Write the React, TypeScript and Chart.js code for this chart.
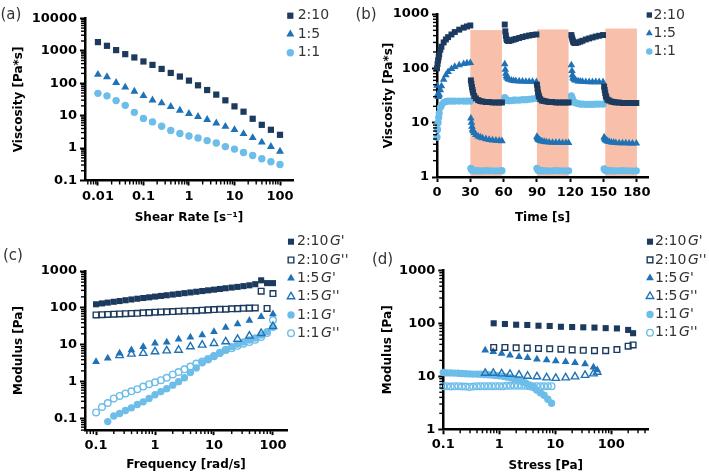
import React, { useEffect, useRef } from 'react';
import { Chart, registerables } from 'chart.js';

Chart.register(...registerables);

const FONT = '"DejaVu Sans", "Liberation Sans", sans-serif';
const DARK = '#1b3a5e';
const MID = '#1f72b6';
const LIGHT = '#6cbde9';
const PINK = '#f8c0aa';

// ---------- (a) viscosity vs shear rate ----------
const SHEAR_RATE = [0.01, 0.0158, 0.0251, 0.0398, 0.0631, 0.1, 0.158, 0.251, 0.398, 0.631, 1, 1.58, 2.51, 3.98, 6.31, 10, 15.8, 25.1, 39.8, 63.1, 100];
const VISC_A_210 = [1845, 1419, 1045, 785, 621, 467, 366, 275, 207, 160, 120, 86, 61.5, 44.4, 29.6, 19.3, 13.2, 8.0, 5.2, 3.66, 2.56];
const VISC_A_15 = [185, 156, 104, 75, 56, 41, 30, 24.4, 18.9, 14.5, 11.5, 9.25, 7.5, 5.85, 4.6, 3.66, 2.75, 2.07, 1.51, 1.11, 0.79];
const VISC_A_11 = [48.6, 40.7, 29, 20.7, 12.6, 8.2, 6.4, 4.7, 3.5, 2.8, 2.35, 2.04, 1.7, 1.43, 1.11, 0.93, 0.73, 0.59, 0.47, 0.38, 0.31];
const TICKS_A_X = [0.01, 0.1, 1, 10, 100];
const TICKS_A_Y = [0.1, 1, 10, 100, 1000, 10000];

// ---------- (b) viscosity vs time ----------
const TIME_B = [
  0, 0.5, 1, 1.5, 2, 3, 4, 6, 8, 10, 13, 16, 20, 24, 27, 30,
  30.5, 31, 31.5, 32, 32.5, 33.5, 35, 37, 39, 41, 44, 47, 50, 53, 56, 58.5,
  61, 61.5, 62, 62.5, 63, 64, 65, 67, 69, 71, 74, 77, 80, 83, 86, 89.5,
  90, 90.5, 91, 91.5, 92, 93, 94.5, 96.5, 98.5, 101, 104, 107, 110, 113, 116, 118.5,
  121, 121.5, 122, 122.5, 123, 124, 125, 127, 129, 131, 134, 137, 140, 143, 146, 149.5,
  150.5, 151, 151.5, 152, 152.5, 153.5, 155, 157, 159, 161, 164, 167, 170, 173, 176, 179.5,
];
const VISC_B_210 = [
  100, 120, 140, 160, 180, 220, 250, 300, 340, 375, 420, 465, 515, 560, 590, 615,
  60, 52, 45, 40, 36, 31, 28, 26, 25, 24.5, 24, 24, 23.5, 23.5, 23.5, 23.5,
  640, 480, 400, 350, 330, 320, 320, 328, 338, 348, 362, 377, 390, 402, 412, 420,
  50, 42, 36, 32, 30, 27, 25.5, 25, 24.5, 24, 24, 23.5, 23.5, 23.5, 23.5, 23.5,
  410, 370, 340, 315, 300, 292, 292, 300, 310, 322, 340, 355, 370, 385, 398, 410,
  46, 40, 35, 31, 29, 26.5, 25.5, 24.5, 24, 23.5, 23.5, 23, 23, 23, 23, 23,
];
const VISC_B_15 = [
  48, 33, 30, 31, 33, 40, 47, 62, 75, 86, 98, 107, 115, 121, 124, 126,
  12, 10, 8.5, 7.5, 7, 6.5, 6.0, 5.6, 5.4, 5.2, 5.0, 4.85, 4.75, 4.7, 4.65, 4.6,
  120, 95, 80, 72, 68, 64, 62, 60, 59, 58.5, 58, 57.5, 57, 57, 57, 56,
  5.5, 5.2, 5.0, 4.9, 4.8, 4.65, 4.55, 4.45, 4.4, 4.35, 4.3, 4.3, 4.3, 4.25, 4.25, 4.25,
  115, 90, 75, 68, 64, 61, 60, 58, 57.5, 57, 56.5, 56, 56, 56, 56, 56,
  5.4, 5.1, 4.9, 4.8, 4.7, 4.55, 4.45, 4.35, 4.3, 4.25, 4.2, 4.2, 4.2, 4.15, 4.15, 4.15,
];
const VISC_B_11 = [
  5.4, 7.5, 10, 12.5, 15, 19, 21, 23.5, 24.5, 25, 25, 25, 25, 25, 25, 25,
  1.45, 1.4, 1.35, 1.32, 1.3, 1.3, 1.31, 1.3, 1.29, 1.3, 1.31, 1.3, 1.3, 1.29, 1.3, 1.31,
  29, 27.5, 26.5, 26, 26, 25.5, 25.5, 25.5, 26, 26, 26, 26.5, 26.5, 27, 27.5, 28,
  1.45, 1.4, 1.35, 1.32, 1.3, 1.3, 1.31, 1.3, 1.3, 1.29, 1.3, 1.31, 1.3, 1.3, 1.29, 1.3,
  31, 29, 27, 25.5, 24.5, 23.5, 23, 22.5, 22, 22, 21.8, 21.8, 21.8, 22, 22, 22,
  1.42, 1.38, 1.34, 1.32, 1.3, 1.3, 1.31, 1.3, 1.29, 1.3, 1.3, 1.31, 1.3, 1.3, 1.29, 1.3,
];
const SHADE_START = [30, 90, 151.5];
const SHADE_END = [58.5, 118.5, 180];
const SHADE_TOP = [505, 520, 540];
const TICKS_B_X = [0, 30, 60, 90, 120, 150, 180];
const TICKS_B_Y = [1, 10, 100, 1000];

// ---------- (c) modulus vs frequency ----------
const FREQ_C = [0.1, 0.126, 0.158, 0.2, 0.251, 0.316, 0.398, 0.501, 0.631, 0.794, 1, 1.26, 1.58, 2, 2.51, 3.16, 3.98, 5.01, 6.31, 7.94, 10, 12.6, 15.8, 20, 25.1, 31.6, 39.8, 50.1, 63.1, 79.4, 100];
const GP_C_210 = [126, 133, 140, 147, 154, 162, 170, 178, 186, 194, 203, 212, 221, 231, 241, 252, 263, 275, 287, 300, 313, 327, 342, 357, 372, 390, 410, 440, 560, 470, 470];
const GPP_C_210 = [65, 66, 67, 68, 69, 70, 71, 72, 74, 75, 77, 78, 79, 80, 82, 83, 84, 85, 87, 89, 91, 92, 93, 95, 96, 98, 99, 100, 285, 97, 245];
const GP_C_11 = [null, null, 0.085, 0.12, 0.14, 0.17, 0.2, 0.245, 0.29, 0.36, 0.45, 0.55, 0.66, 0.82, 1.02, 1.3, 1.8, 2.4, 3.3, 4.0, 4.9, 6.0, 7.4, 9.0, 10.6, 12.0, 13.6, 15.5, 18.5, 23, 30];
const GPP_C_11 = [0.15, 0.21, 0.27, 0.36, 0.42, 0.49, 0.56, 0.64, 0.75, 0.87, 0.98, 1.12, 1.3, 1.6, 1.85, 2.2, 2.6, 3.15, 3.6, 4.2, 5.0, 6.2, 7.3, 8.1, 9.5, 10.8, 12.0, 13.8, 16.5, 21, 47];
const FREQ_C5 = [0.1, 0.158, 0.251, 0.398, 0.631, 1, 1.58, 2.51, 3.98, 6.31, 10, 15.8, 25.1, 39.8, 63.1, 100];
const GP_C_15 = [3.5, 4.4, 6.0, 7.3, 9.0, 11.1, 11.8, 14.3, 16.2, 18.6, 22.9, 29.5, 37, 45.6, 58, 69];
const GPP_C_15 = [null, null, 5.2, 5.7, 6.0, 6.6, 7.0, 7.3, 9.0, 10, 11.1, 12.3, 14.3, 17.5, 20.7, 32];
const TICKS_C_X = [0.1, 1, 10, 100];
const TICKS_C_Y = [0.1, 1, 10, 100, 1000];

// ---------- (d) modulus vs stress ----------
const STRESS_D10 = [0.794, 1.26, 2, 3.16, 5.01, 7.94, 12.6, 20, 31.6, 50.1, 79.4, 126, 200, 245];
const GP_D_210 = [100, 97, 94, 93, 90, 89, 86, 85, 84, 83, 81, 80, 75, 65];
const GPP_D_210 = [35, 35, 34.5, 34, 33.5, 33, 32.5, 31.5, 31, 30.5, 30.5, 32, 37, 39];
const STRESS_D5 = [0.56, 0.78, 1.1, 1.55, 2.25, 3.2, 4.7, 7.0, 10.2, 15.3, 22.5, 34, 48, 56];
const GP_D_15 = [31, 29, 27, 25, 23.4, 22.4, 21, 20.3, 19.5, 18.8, 18, 17, 14.8, 13.2];
const GPP_D_15 = [11.5, 11.5, 11.2, 11, 10.6, 10.1, 9.85, 9.4, 9.2, 9.4, 9.8, 10.5, 11.2, 12];
const STRESS_D1 = [0.1, 0.116, 0.136, 0.158, 0.185, 0.215, 0.251, 0.293, 0.341, 0.398, 0.464, 0.541, 0.631, 0.736, 0.858, 1, 1.17, 1.36, 1.58, 1.85, 2.15, 2.51, 2.93, 3.41, 3.98, 4.64, 5.41, 6.31, 7.36, 8.58];
const GP_D_11 = [11.8, 11.6, 11.6, 11.5, 11.4, 11.3, 11.2, 11.1, 11.0, 11.0, 10.9, 10.8, 10.7, 10.6, 10.4, 10.2, 10.0, 9.7, 9.4, 9.0, 8.6, 8.1, 7.5, 6.9, 6.2, 5.5, 4.9, 4.4, 3.7, 3.1];
const GPP_D_11 = [6.5, 6.5, 6.4, 6.5, 6.5, 6.4, 6.4, 6.3, 6.4, 6.5, 6.5, 6.5, 6.5, 6.5, 6.5, 6.5, 6.5, 6.6, 6.6, 6.6, 6.6, 6.6, 6.6, 6.5, 6.5, 6.5, 6.5, 6.5, 6.5, 6.5];
const TICKS_D_X = [0.1, 1, 10, 100];
const TICKS_D_Y = [1, 10, 100, 1000];

const RATIO_LABELS = ['2:10', '1:5', '1:1'];
const MODULUS_LABELS = ["2:10 G'", "2:10 G''", "1:5 G'", "1:5 G''", "1:1 G'", "1:1 G''"];

// ---------- helpers ----------
function series(label: string, xs: number[], ys: (number | null)[], style: string, color: string, open: boolean, r: number) {
  return {
    label,
    data: xs.map((x, i) => ({ x, y: ys[i] })),
    pointStyle: style,
    pointRadius: r,
    pointHoverRadius: r,
    pointBackgroundColor: open ? 'rgba(255,255,255,0)' : color,
    pointBorderColor: color,
    pointBorderWidth: open ? 1.4 : 0,
    showLine: false,
    clip: false,
  };
}

function drawMarker(ctx: CanvasRenderingContext2D, style: string, x: number, y: number, r: number, fill: string, stroke: string, bw: number) {
  ctx.beginPath();
  if (style === 'rect') {
    const h = r * Math.SQRT1_2;
    ctx.rect(x - h, y - h, 2 * h, 2 * h);
  } else if (style === 'triangle') {
    for (let k = 0; k < 3; k++) {
      const a = (k * 2 * Math.PI) / 3;
      const px = x + Math.sin(a) * r;
      const py = y - Math.cos(a) * r;
      if (k === 0) ctx.moveTo(px, py); else ctx.lineTo(px, py);
    }
    ctx.closePath();
  } else {
    ctx.arc(x, y, r, 0, Math.PI * 2);
  }
  ctx.fillStyle = fill;
  ctx.fill();
  if (bw > 0) {
    ctx.lineWidth = bw;
    ctx.strokeStyle = stroke;
    ctx.stroke();
  }
}

const minorTicksPlugin = {
  id: 'minorTicks',
  afterDraw(chart: any) {
    const ctx = chart.ctx;
    const area = chart.chartArea;
    ctx.save();
    ctx.strokeStyle = '#000';
    ctx.lineWidth = 1.4;
    for (const id of ['x', 'y']) {
      const s = chart.scales[id];
      if (s.type !== 'logarithmic') continue;
      const lo = Math.floor(Math.log10(s.min));
      const hi = Math.ceil(Math.log10(s.max));
      for (let k = lo; k <= hi; k++) {
        for (let m = 2; m <= 9; m++) {
          const v = m * Math.pow(10, k);
          if (v < s.min || v > s.max) continue;
          const p = s.getPixelForValue(v);
          ctx.beginPath();
          if (id === 'x') {
            ctx.moveTo(p, area.bottom);
            ctx.lineTo(p, area.bottom + 4);
          } else {
            ctx.moveTo(area.left, p);
            ctx.lineTo(area.left - 4, p);
          }
          ctx.stroke();
        }
      }
    }
    ctx.restore();
  },
};

const shadePlugin = {
  id: 'shade',
  beforeDraw(chart: any, _args: any, opts: any) {
    if (!opts || !opts.starts) return;
    const { x, y } = chart.scales;
    const ctx = chart.ctx;
    ctx.save();
    ctx.fillStyle = opts.color;
    const yb = y.getPixelForValue(y.min);
    opts.starts.forEach((s: number, i: number) => {
      const x0 = x.getPixelForValue(s);
      const x1 = x.getPixelForValue(opts.ends[i]);
      const y0 = y.getPixelForValue(opts.tops[i]);
      ctx.fillRect(x0, y0, x1 - x0, yb - y0);
    });
    ctx.restore();
  },
};

const keyPlugin = {
  id: 'key',
  afterDraw(chart: any, _args: any, opts: any) {
    const ctx = chart.ctx;
    ctx.save();
    ctx.textBaseline = 'middle';
    ctx.textAlign = 'left';
    chart.data.datasets.forEach((ds: any, i: number) => {
      const y = opts.y0 + i * opts.dy;
      drawMarker(ctx, ds.pointStyle, opts.markerX, y, ds.pointRadius * opts.scale, ds.pointBackgroundColor, ds.pointBorderColor, ds.pointBorderWidth);
      ctx.fillStyle = '#333';
      const label: string = ds.label;
      const sp = label.indexOf(' ');
      ctx.font = `${opts.size}px ${FONT}`;
      if (sp < 0) {
        ctx.fillText(label, opts.textX, y);
      } else {
        const a = label.slice(0, sp);
        const b = label.slice(sp + 1);
        ctx.fillText(a, opts.textX, y);
        const w = ctx.measureText(a).width;
        ctx.font = `italic ${opts.size}px ${FONT}`;
        ctx.fillText(b, opts.textX + w + 1.5, y);
      }
    });
    ctx.font = `15px ${FONT}`;
    ctx.fillStyle = '#333';
    ctx.fillText(opts.panel, opts.panelX, opts.panelY);
    ctx.restore();
  },
};

const TITLE_SIZE = 12;
const TICK_SIZE = 13;
const W = 709;
const H = 476;

function axis(type: string, min: number, max: number, ticks: number[], title: string, fit: (s: any) => void, pad: number) {
  return {
    type,
    min,
    max,
    bounds: 'data',
    afterFit: fit,
    afterBuildTicks: (s: any) => {
      s.ticks = ticks.map((v) => ({ value: v }));
    },
    ticks: {
      autoSkip: false,
      maxRotation: 0,
      padding: pad,
      color: '#000',
      font: { family: FONT, size: TICK_SIZE, weight: 'bold' },
      callback: (v: any) => String(v),
    },
    grid: { display: true, drawOnChartArea: false, drawTicks: true, tickLength: 5, tickWidth: 2, tickColor: '#000', color: '#000' },
    border: { display: true, width: 2.5, color: '#000' },
    title: { display: true, text: title, color: '#000', padding: 0, font: { family: FONT, size: TITLE_SIZE, weight: 'bold' } },
  };
}

function makeConfig(spec: any) {
  const lh = TITLE_SIZE * 1.2;
  const padLeft = spec.yTitleX - lh / 2;
  const yW = spec.area.l - padLeft;
  const xBottom = spec.xTitleY + lh / 2;
  const xH = xBottom - spec.area.b;
  return {
    type: 'scatter',
    data: { datasets: spec.datasets },
    options: {
      responsive: false,
      animation: false,
      events: [],
      layout: { padding: { left: padLeft, top: spec.area.t, right: W - spec.area.r, bottom: H - xBottom } },
      plugins: {
        legend: { display: false },
        tooltip: { enabled: false },
        key: spec.key,
        shade: spec.shade || {},
      },
      scales: {
        x: axis(spec.xType, spec.xMin, spec.xMax, spec.xTicks, spec.xTitle, (s: any) => { s.height = xH; }, 3),
        y: axis('logarithmic', spec.yMin, spec.yMax, spec.yTicks, spec.yTitle, (s: any) => { s.width = yW; }, 3),
      },
    },
    plugins: [shadePlugin, minorTicksPlugin, keyPlugin],
  };
}

function buildSpecs() {
  const specA = {
    area: { l: 85, t: 18.3, r: 293, b: 180.5 },
    yTitleX: 19, xTitleY: 218,
    xType: 'logarithmic', xMin: 0.0052, xMax: 193, xTicks: TICKS_A_X,
    yMin: 0.1, yMax: 10000, yTicks: TICKS_A_Y,
    xTitle: 'Shear Rate [s\u207B\u00B9]', yTitle: 'Viscosity [Pa*s]',
    datasets: [
      series(RATIO_LABELS[0], SHEAR_RATE, VISC_A_210, 'rect', DARK, false, 4.4),
      series(RATIO_LABELS[1], SHEAR_RATE, VISC_A_15, 'triangle', MID, false, 4.6),
      series(RATIO_LABELS[2], SHEAR_RATE, VISC_A_11, 'circle', LIGHT, false, 3.7),
    ],
    key: { markerX: 290.3, textX: 297.7, y0: 15.7, dy: 18.5, size: 14, scale: 1, panel: '(a)', panelX: 0.5, panelY: 15 },
  };
  const specB = {
    area: { l: 437, t: 14, r: 648, b: 177 },
    yTitleX: 389, xTitleY: 218,
    xType: 'linear', xMin: 0, xMax: 190, xTicks: TICKS_B_X,
    yMin: 1, yMax: 1000, yTicks: TICKS_B_Y,
    xTitle: 'Time [s]', yTitle: 'Viscosity [Pa*s]',
    datasets: [
      series(RATIO_LABELS[0], TIME_B, VISC_B_210, 'rect', DARK, false, 4.2),
      series(RATIO_LABELS[1], TIME_B, VISC_B_15, 'triangle', MID, false, 4.4),
      series(RATIO_LABELS[2], TIME_B, VISC_B_11, 'circle', LIGHT, false, 3.6),
    ],
    shade: { starts: SHADE_START, ends: SHADE_END, tops: SHADE_TOP, color: PINK },
    key: { markerX: 649.3, textX: 653.5, y0: 15, dy: 18.3, size: 14, scale: 0.9, panel: '(b)', panelX: 355.5, panelY: 15 },
  };
  const specC = {
    area: { l: 85, t: 271, r: 287, b: 430.1 },
    yTitleX: 19, xTitleY: 465,
    xType: 'logarithmic', xMin: 0.065, xMax: 173, xTicks: TICKS_C_X,
    yMin: 0.05, yMax: 1000, yTicks: TICKS_C_Y,
    xTitle: 'Frequency [rad/s]', yTitle: 'Modulus [Pa]',
    datasets: [
      series(MODULUS_LABELS[0], FREQ_C, GP_C_210, 'rect', DARK, false, 4.3),
      series(MODULUS_LABELS[1], FREQ_C, GPP_C_210, 'rect', DARK, true, 4.0),
      series(MODULUS_LABELS[2], FREQ_C5, GP_C_15, 'triangle', MID, false, 4.5),
      series(MODULUS_LABELS[3], FREQ_C5, GPP_C_15, 'triangle', MID, true, 4.3),
      series(MODULUS_LABELS[4], FREQ_C, GP_C_11, 'circle', LIGHT, false, 3.7),
      series(MODULUS_LABELS[5], FREQ_C, GPP_C_11, 'circle', LIGHT, true, 3.3),
    ],
    key: { markerX: 291, textX: 297, y0: 241.7, dy: 18.3, size: 14, scale: 1, panel: '(c)', panelX: 3, panelY: 256.5 },
  };
  const specD = {
    area: { l: 443.3, t: 270.3, r: 648.3, b: 429.3 },
    yTitleX: 388, xTitleY: 466,
    xType: 'logarithmic', xMin: 0.1, xMax: 458, xTicks: TICKS_D_X,
    yMin: 1, yMax: 1000, yTicks: TICKS_D_Y,
    xTitle: 'Stress [Pa]', yTitle: 'Modulus [Pa]',
    datasets: [
      series(MODULUS_LABELS[0], STRESS_D10, GP_D_210, 'rect', DARK, false, 4.3),
      series(MODULUS_LABELS[1], STRESS_D10, GPP_D_210, 'rect', DARK, true, 4.0),
      series(MODULUS_LABELS[2], STRESS_D5, GP_D_15, 'triangle', MID, false, 4.5),
      series(MODULUS_LABELS[3], STRESS_D5, GPP_D_15, 'triangle', MID, true, 4.3),
      series(MODULUS_LABELS[4], STRESS_D1, GP_D_11, 'circle', LIGHT, false, 3.7),
      series(MODULUS_LABELS[5], STRESS_D1, GPP_D_11, 'circle', LIGHT, true, 3.3),
    ],
    key: { markerX: 650, textX: 655, y0: 241.7, dy: 18.2, size: 14, scale: 1, panel: '(d)', panelX: 372, panelY: 260.5 },
  };
  return [specA, specB, specC, specD];
}

function Panel({ index }: { index: number }) {
  const ref = useRef<HTMLCanvasElement>(null);
  useEffect(() => {
    const spec = buildSpecs()[index];
    const chart = new Chart(ref.current as HTMLCanvasElement, makeConfig(spec) as any);
    return () => chart.destroy();
  }, [index]);
  return (
    <canvas
      ref={ref}
      width={W}
      height={H}
      style={{ position: 'absolute', left: 0, top: 0, width: W, height: H }}
    />
  );
}

export default function App() {
  return (
    <div style={{ position: 'absolute', left: 0, top: 0, width: W, height: H, background: '#fff', overflow: 'hidden' }}>
      {[0, 1, 2, 3].map((i) => (
        <Panel key={i} index={i} />
      ))}
    </div>
  );
}
